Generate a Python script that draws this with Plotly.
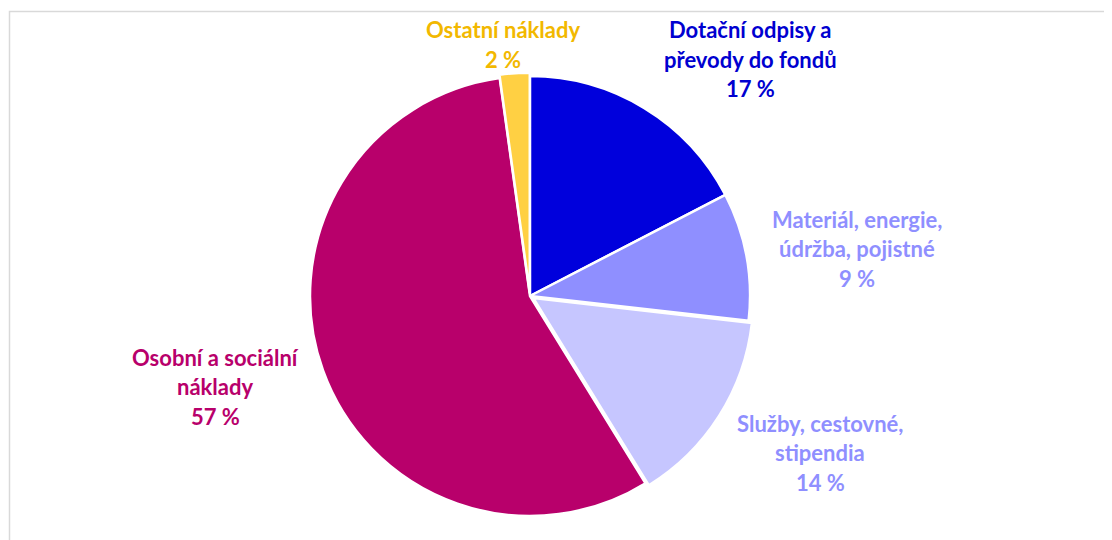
import plotly.graph_objects as go

categories = ["Dotační odpisy a\npřevody do fondů", "Materiál, energie,\núdržba, pojistné",
              "Služby, cestovné,\nstipendia", "Osobní a sociální\nnáklady", "Ostatní náklady"]
values = [17.4, 9.4, 14.4, 56.6, 2.2]
pct_labels = ["17 %", "9 %", "14 %", "57 %", "2 %"]
slice_colors = ["#0000DC", "#8F8FFF", "#C6C6FF", "#B8006B", "#FFD043"]
text_colors = ["#0000D0", "#8F8FFF", "#8F8FFF", "#B8006B", "#F2B800"]
pulls = [0, 0, 0.018, 0, 0.015]

# page body has an 8px margin; figure is placed at (8, 8)
OFF = 8
W, H = 1112 - OFF, 540 - OFF
cx, cy, r = 530 - OFF, 296 - OFF, 220
maxpull = max(pulls)
r0 = r * (1 + maxpull)

fig = go.Figure(go.Pie(
    labels=[c.replace("\n", " ") for c in categories],
    values=values,
    sort=False,
    direction="clockwise",
    rotation=0,
    pull=pulls,
    marker=dict(colors=slice_colors, line=dict(color="white", width=2.5)),
    textinfo="none",
    hoverinfo="label+percent",
    showlegend=False,
    domain=dict(x=[(cx - r0) / W, (cx + r0) / W], y=[(H - cy - r0) / H, (H - cy + r0) / H]),
))

# label anchor (center x, first line y) in reference pixels
label_pos = [(750, 31), (857, 220), (820, 424), (215, 358), (503, 31)]
line_gap = 29.5
annotations = []
for cat, pct, col, (lx, ly) in zip(categories, pct_labels, text_colors, label_pos):
    lines = cat.split("\n") + [pct]
    for i, t in enumerate(lines):
        y = ly + i * line_gap - OFF - 1
        annotations.append(dict(
            x=(lx - OFF) / W, y=1 - y / H, xref="paper", yref="paper",
            text=f"<b>{t}</b>", showarrow=False, xanchor="center", yanchor="middle",
            font=dict(family="Lato", size=22, color=col),
        ))

fig.update_layout(
    width=W, height=H,
    margin=dict(l=0, r=0, t=0, b=0),
    paper_bgcolor="white",
    plot_bgcolor="white",
    annotations=annotations,
    shapes=[dict(type="rect", xref="paper", yref="paper",
                 x0=(9.5 - OFF) / W, x1=1.05, y0=-0.05, y1=1 - (11.5 - OFF) / H,
                 line=dict(color="#D9D9D9", width=1.5), layer="below")],
)

fig.write_html("out.html")
